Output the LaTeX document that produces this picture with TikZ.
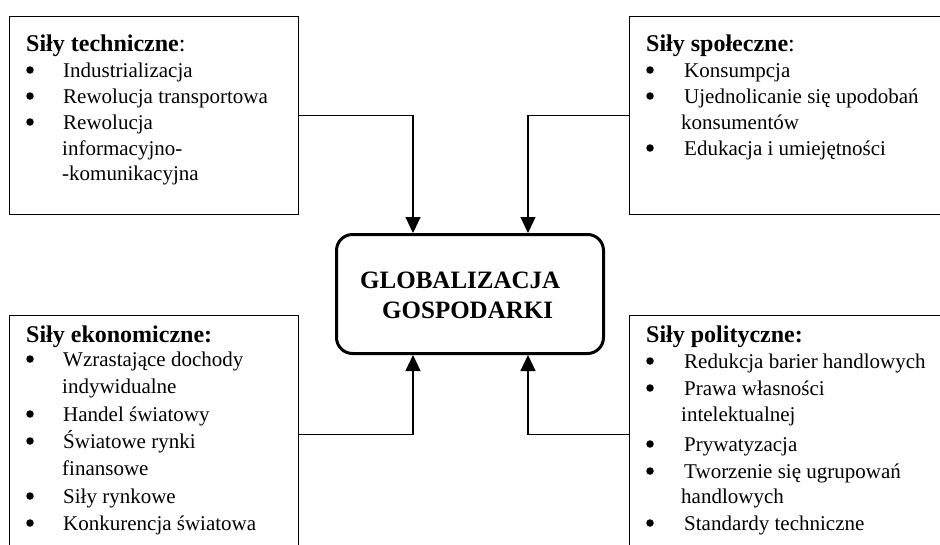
\documentclass[tikz,border=0pt]{standalone}
\usepackage{fontspec}
\setmainfont{Liberation Serif}
\usetikzlibrary{arrows.meta}
\begin{document}
\begin{tikzpicture}[x=1pt,y=-1pt,
  box/.style={draw, line width=1.3pt, inner sep=0pt, anchor=north west},
  mainbox/.style={draw, line width=3pt, rounded corners=16pt, inner sep=0pt, minimum width=267pt, minimum height=119pt},
  txt/.style={anchor=base west, inner sep=0pt, font=\fontsize{21}{25}\selectfont},
  head/.style={anchor=base west, inner sep=0pt, font=\fontsize{24}{29}\selectfont\bfseries},
  gtxt/.style={anchor=base west, inner sep=0pt, font=\fontsize{25}{30}\selectfont\bfseries},
  bul/.style={circle, fill, inner sep=0pt, minimum size=7.5pt},
  arr/.style={draw, line width=1.2pt, -{Triangle[length=16pt,width=15pt]}}]
\path[use as bounding box] (0,0) rectangle (940,544);
\fill[white] (0,0) rectangle (940,544);
\clip (0,0) rectangle (940,544);

% boxes
\node[box, minimum width=289pt, minimum height=198pt] (tl) at (8.5,15.5) {};
\node[box, minimum width=340pt, minimum height=198pt] (tr) at (628.5,15.5) {};
\node[box, minimum width=289pt, minimum height=238pt] (bl) at (8.5,314.5) {};
\node[box, minimum width=340pt, minimum height=238pt] (br) at (628.5,314.5) {};
\node[mainbox] (glob) at (470,294) {};
\node[gtxt] (g1) at (360,288) {GLOBALIZACJA};
\node[gtxt] (g2) at (382,318) {GOSPODARKI};

% connectors
\draw[arr] (tl.east) -| ([xshift=-57pt]glob.north);
\draw[arr] (tr.west) -| ([xshift=58pt]glob.north);
\draw[arr] (bl.east) -| ([xshift=-57pt]glob.south);
\draw[arr] (br.west) -| ([xshift=58pt]glob.south);

% top-left
\node[head] (tlh) at (26,51) {Siły techniczne\textnormal{:}};
\node[bul] (tlb1) at (30,70) {};
\node[txt] (tl1) at (63,77) {Industrializacja};
\node[bul] (tlb2) at (30,96) {};
\node[txt] (tl2) at (63,103) {Rewolucja transportowa};
\node[bul] (tlb3) at (30,122) {};
\node[txt] (tl3) at (63,129) {Rewolucja};
\node[txt] (tl4) at (62,155) {informacyjno-};
\node[txt] (tl5) at (62,180) {-komunikacyjna};

% top-right
\node[head] (trh) at (646,51) {Siły społeczne\textnormal{:}};
\node[bul] (trb1) at (650,70) {};
\node[txt] (tr1) at (684,77) {Konsumpcja};
\node[bul] (trb2) at (650,96) {};
\node[txt] (tr2) at (684,103) {Ujednolicanie się upodobań};
\node[txt] (tr3) at (681,129) {konsumentów};
\node[bul] (trb3) at (650,148) {};
\node[txt] (tr4) at (684,155) {Edukacja i umiejętności};

% bottom-left
\node[head] (blh) at (26,342) {Siły ekonomiczne:};
\node[bul] (blb1) at (30,359) {};
\node[txt] (bl1) at (63,366) {Wzrastające dochody};
\node[txt] (bl2) at (62,393) {indywidualne};
\node[bul] (blb2) at (30,414) {};
\node[txt] (bl3) at (63,421) {Handel światowy};
\node[bul] (blb3) at (30,441) {};
\node[txt] (bl4) at (63,448) {Światowe rynki};
\node[txt] (bl5) at (62,475) {finansowe};
\node[bul] (blb4) at (30,496) {};
\node[txt] (bl6) at (63,503) {Siły rynkowe};
\node[bul] (blb5) at (30,523) {};
\node[txt] (bl7) at (63,530) {Konkurencja światowa};

% bottom-right
\node[head] (brh) at (646,342) {Siły polityczne:};
\node[bul] (brb1) at (650,361) {};
\node[txt] (br1) at (684,368) {Redukcja barier handlowych};
\node[bul] (brb2) at (650,388) {};
\node[txt] (br2) at (684,395) {Prawa własności};
\node[txt] (br3) at (681,421) {intelektualnej};
\node[bul] (brb3) at (650,444) {};
\node[txt] (br4) at (684,451) {Prywatyzacja};
\node[bul] (brb4) at (650,471) {};
\node[txt] (br5) at (684,478) {Tworzenie się ugrupowań};
\node[txt] (br6) at (681,503) {handlowych};
\node[bul] (brb5) at (650,523) {};
\node[txt] (br7) at (684,530) {Standardy techniczne};
\end{tikzpicture}
\end{document}
